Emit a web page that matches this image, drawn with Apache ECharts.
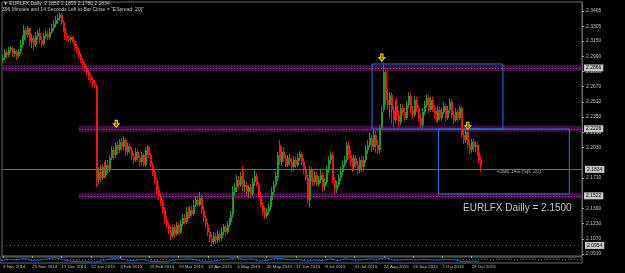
<!DOCTYPE html>
<html><head><meta charset="utf-8">
<script src="https://cdn.jsdelivr.net/npm/echarts@6/dist/echarts.min.js"></script>
<style>html,body{margin:0;padding:0;background:#000;}#c{width:625px;height:273px;}</style>
</head><body><div id="c"></div>
<script>
// ---- data ----
const opens=[2.295,2.297,2.303,2.300,2.306,2.308,2.301,2.304,2.299,2.303,
2.311,2.316,2.327,2.321,2.329,2.314,2.318,2.311,2.320,2.323,
2.316,2.312,2.320,2.322,2.319,2.324,2.329,2.333,2.337,2.339,
2.342,2.335,2.329,2.321,2.318,2.316,2.319,2.315,2.310,2.306,
2.300,2.295,2.291,2.287,2.282,2.278,2.274,2.270,2.268,2.169,
2.177,2.171,2.182,2.174,2.185,2.180,2.192,2.200,2.195,2.206,
2.200,2.209,2.203,2.211,2.198,2.205,2.200,2.194,2.190,2.198,
2.192,2.188,2.195,2.185,2.200,2.203,2.195,2.185,2.177,2.169,
2.158,2.152,2.146,2.137,2.127,2.122,2.116,2.110,2.119,2.112,
2.121,2.114,2.123,2.129,2.125,2.135,2.131,2.137,2.133,2.143,
2.148,2.143,2.150,2.137,2.129,2.122,2.114,2.108,2.104,2.110,
2.106,2.112,2.108,2.114,2.119,2.114,2.122,2.125,2.132,2.156,
2.161,2.169,2.164,2.177,2.161,2.164,2.156,2.161,2.154,2.167,
2.173,2.164,2.153,2.143,2.135,2.131,2.135,2.140,2.148,2.156,
2.164,2.171,2.206,2.188,2.198,2.192,2.185,2.192,2.188,2.182,
2.190,2.185,2.192,2.196,2.188,2.180,2.171,2.148,2.180,2.171,
2.167,2.174,2.165,2.169,2.174,2.161,2.167,2.180,2.190,2.195,
2.169,2.159,2.164,2.171,2.177,2.185,2.190,2.206,2.195,2.188,
2.182,2.192,2.185,2.180,2.190,2.182,2.190,2.200,2.206,2.213,
2.203,2.216,2.206,2.200,2.224,2.242,2.282,2.253,2.248,2.258,
2.242,2.232,2.248,2.237,2.230,2.245,2.240,2.234,2.248,2.257,
2.242,2.237,2.253,2.245,2.234,2.227,2.240,2.248,2.255,2.242,
2.253,2.245,2.237,2.232,2.242,2.234,2.240,2.247,2.234,2.242,
2.251,2.237,2.232,2.240,2.234,2.245,2.216,2.211,2.219,2.206,
2.200,2.209,2.203,2.206,2.198,2.190];
const closes=[2.297,2.303,2.300,2.306,2.308,2.301,2.304,2.299,2.303,2.311,
2.316,2.327,2.321,2.329,2.314,2.318,2.311,2.320,2.323,2.316,
2.312,2.320,2.322,2.319,2.324,2.329,2.333,2.337,2.339,2.342,
2.335,2.329,2.321,2.318,2.316,2.319,2.315,2.310,2.306,2.300,
2.295,2.291,2.287,2.282,2.278,2.274,2.270,2.268,2.169,2.177,
2.171,2.182,2.174,2.185,2.180,2.192,2.200,2.195,2.206,2.200,
2.209,2.203,2.211,2.198,2.205,2.200,2.194,2.190,2.198,2.192,
2.188,2.195,2.185,2.200,2.203,2.195,2.185,2.177,2.169,2.158,
2.152,2.146,2.137,2.127,2.122,2.116,2.110,2.119,2.112,2.121,
2.114,2.123,2.129,2.125,2.135,2.131,2.137,2.133,2.143,2.148,
2.143,2.150,2.137,2.129,2.122,2.114,2.108,2.104,2.110,2.106,
2.112,2.108,2.114,2.119,2.114,2.122,2.125,2.132,2.156,2.161,
2.169,2.164,2.173,2.161,2.164,2.156,2.161,2.154,2.167,2.173,
2.164,2.153,2.143,2.135,2.131,2.135,2.140,2.148,2.156,2.164,
2.173,2.195,2.188,2.198,2.192,2.185,2.192,2.188,2.182,2.190,
2.185,2.192,2.196,2.188,2.180,2.171,2.148,2.180,2.171,2.167,
2.174,2.165,2.169,2.174,2.161,2.167,2.180,2.190,2.195,2.169,
2.159,2.164,2.171,2.177,2.185,2.190,2.206,2.195,2.188,2.182,
2.192,2.185,2.180,2.190,2.182,2.190,2.200,2.206,2.213,2.203,
2.216,2.206,2.200,2.224,2.240,2.282,2.253,2.248,2.258,2.242,
2.232,2.248,2.237,2.230,2.245,2.240,2.234,2.248,2.257,2.242,
2.237,2.253,2.245,2.234,2.227,2.240,2.248,2.255,2.242,2.253,
2.245,2.237,2.232,2.242,2.234,2.240,2.247,2.234,2.242,2.251,
2.237,2.232,2.240,2.234,2.245,2.216,2.211,2.219,2.206,2.200,
2.209,2.203,2.206,2.198,2.190,2.1834];
const highs=[2.300,2.307,2.306,2.309,2.310,2.310,2.307,2.306,2.307,2.316,
2.321,2.332,2.329,2.331,2.330,2.322,2.320,2.324,2.327,2.329,
2.320,2.323,2.327,2.325,2.329,2.333,2.337,2.341,2.343,2.344,
2.344,2.337,2.331,2.323,2.320,2.321,2.320,2.316,2.312,2.308,
2.302,2.297,2.293,2.289,2.285,2.280,2.276,2.274,2.270,2.182,
2.185,2.186,2.188,2.190,2.190,2.195,2.205,2.205,2.209,2.210,
2.212,2.213,2.215,2.213,2.208,2.208,2.204,2.197,2.202,2.200,
2.195,2.198,2.197,2.204,2.206,2.205,2.197,2.188,2.180,2.171,
2.162,2.155,2.148,2.140,2.131,2.125,2.120,2.122,2.123,2.125,
2.125,2.127,2.133,2.133,2.140,2.140,2.142,2.142,2.148,2.152,
2.152,2.156,2.153,2.141,2.132,2.125,2.118,2.112,2.114,2.113,
2.116,2.115,2.119,2.123,2.122,2.126,2.129,2.136,2.162,2.166,
2.174,2.173,2.177,2.184,2.169,2.167,2.164,2.165,2.171,2.180,
2.176,2.167,2.156,2.146,2.140,2.139,2.144,2.152,2.161,2.168,
2.177,2.198,2.211,2.203,2.203,2.196,2.195,2.197,2.192,2.194,
2.193,2.196,2.199,2.198,2.192,2.184,2.174,2.184,2.182,2.175,
2.178,2.177,2.173,2.180,2.177,2.171,2.184,2.194,2.199,2.198,
2.172,2.168,2.175,2.182,2.189,2.194,2.209,2.210,2.200,2.192,
2.195,2.195,2.189,2.193,2.194,2.194,2.206,2.211,2.218,2.216,
2.221,2.220,2.211,2.227,2.247,2.290,2.285,2.264,2.261,2.261,
2.247,2.253,2.255,2.242,2.249,2.249,2.245,2.252,2.261,2.260,
2.247,2.257,2.256,2.248,2.238,2.245,2.252,2.259,2.258,2.256,
2.256,2.248,2.241,2.247,2.246,2.245,2.251,2.249,2.247,2.255,
2.254,2.241,2.245,2.244,2.247,2.247,2.221,2.224,2.221,2.210,
2.212,2.212,2.210,2.209,2.203,2.194];
const lows=[2.292,2.295,2.297,2.298,2.302,2.298,2.298,2.295,2.297,2.301,
2.309,2.314,2.316,2.318,2.310,2.308,2.306,2.309,2.316,2.313,
2.309,2.310,2.317,2.316,2.317,2.322,2.325,2.330,2.333,2.336,
2.332,2.324,2.316,2.315,2.314,2.314,2.313,2.307,2.302,2.297,
2.292,2.288,2.282,2.278,2.274,2.271,2.267,2.266,2.161,2.164,
2.167,2.169,2.171,2.171,2.175,2.177,2.190,2.190,2.192,2.195,
2.197,2.199,2.200,2.194,2.195,2.196,2.190,2.186,2.188,2.189,
2.184,2.185,2.182,2.183,2.195,2.192,2.182,2.173,2.165,2.154,
2.148,2.142,2.133,2.123,2.118,2.112,2.106,2.108,2.108,2.110,
2.111,2.112,2.120,2.121,2.123,2.128,2.129,2.130,2.131,2.140,
2.140,2.141,2.133,2.125,2.118,2.110,2.104,2.099,2.101,2.102,
2.103,2.104,2.105,2.111,2.110,2.112,2.119,2.122,2.129,2.152,
2.156,2.159,2.161,2.157,2.156,2.152,2.150,2.150,2.152,2.163,
2.161,2.150,2.140,2.132,2.128,2.129,2.132,2.137,2.145,2.153,
2.161,2.168,2.185,2.184,2.188,2.182,2.183,2.184,2.177,2.178,
2.181,2.182,2.189,2.185,2.175,2.168,2.144,2.140,2.167,2.163,
2.164,2.162,2.161,2.166,2.156,2.157,2.164,2.176,2.186,2.166,
2.154,2.155,2.161,2.168,2.174,2.182,2.187,2.191,2.184,2.177,
2.178,2.181,2.175,2.176,2.177,2.178,2.187,2.196,2.203,2.198,
2.200,2.197,2.196,2.197,2.222,2.240,2.248,2.242,2.234,2.228,
2.225,2.229,2.233,2.225,2.227,2.236,2.231,2.232,2.245,2.238,
2.233,2.235,2.240,2.230,2.224,2.225,2.237,2.245,2.239,2.240,
2.240,2.233,2.229,2.230,2.231,2.231,2.238,2.231,2.232,2.239,
2.234,2.228,2.230,2.230,2.232,2.213,2.207,2.208,2.202,2.196,
2.197,2.198,2.198,2.194,2.186,2.177];
// small indicator sub-window: bar index and value (0..1)
const indBars=[0,4,8,12,16,20,24,28,32,36,40,44,48,52,56,60,64,68,72,76,80,84,88,92,96,100,104,108,112,116,120,124,128,132,136,140,144,148,152,156,160,164,168,172,176,180,184,188,192,196,200,204,208,212,216,220,224,228,232,236,240,244];
const indValues=[0.4,0.6,0.5,0.8,0.4,0.5,0.7,0.9,0.5,0.3,0.2,0.2,0.1,0.4,0.7,0.8,0.5,0.4,0.6,0.3,0.2,0.2,0.5,0.6,0.7,0.5,0.2,0.3,0.5,0.6,0.9,0.6,0.7,0.3,0.4,0.8,0.7,0.5,0.6,0.3,0.5,0.4,0.7,0.4,0.7,0.5,0.5,0.7,0.6,0.9,0.5,0.5,0.6,0.5,0.6,0.5,0.5,0.6,0.5,0.2,0.3,0.3];
const dateLabels=["3 Nov 2014","25 Nov 2014","17 Dec 2014","12 Jan 2015","3 Feb 2015","25 Feb 2015","19 Mar 2015","10 Apr 2015","4 May 2015","26 May 2015","17 Jun 2015","9 Jul 2015","31 Jul 2015","24 Aug 2015","15 Sep 2015","7 Oct 2015","29 Oct 2015"];
const priceTicks=[2.3465,2.3305,2.3150,2.2990,2.2830,2.2670,2.2510,2.2350,2.2190,2.2030,2.1710,2.1390,2.1230,2.1070,2.0910];
const zoneTop=[2.2898,2.2258,2.1553];
const zoneBottom=[2.2835,2.2195,2.1490];
const zoneStart=[0,39,39];
const zoneLabel=["2.2866","2.2226","2.1522"];
const boxStart=[189,223], boxEnd=[256,290], boxTop=[2.2908,2.2224], boxBottom=[2.2224,2.1541];
const arrowBar=[58,194,238], arrowPrice=[2.2280,2.2975,2.2258];
const bidPrice=2.1846, askPrice=2.1826, lastLabel="2.1834";
const floorLine=2.0978, floorLabel="2.0954";
const labelStep=15, totalSlots=297;

// ---- build ----
const cats=[];for(let i=0;i<totalSlots;i++){cats.push(i%labelStep===0&&dateLabels[i/labelStep]?dateLabels[i/labelStep]:'b'+i);}
const candleData=opens.map((o,i)=>[i,o,closes[i],lows[i],highs[i]]);
const last=cats[totalSlots-1];
const FONT='Liberation Sans';
const UP='#23962a', DOWN='#ee1515';
const tagLabel=(t)=>({show:true,position:'end',formatter:t,backgroundColor:'#c8c8c8',color:'#000',fontSize:5,fontFamily:FONT,padding:[1,2],distance:3});
const series=[];
series.push({type:'line',data:[],z:1,silent:true,
  markArea:{silent:true,itemStyle:{color:'#420b42'},data:zoneTop.map((t,i)=>[{xAxis:cats[zoneStart[i]],yAxis:t},{xAxis:last,yAxis:zoneBottom[i]}])},
  markLine:{silent:true,symbol:'none',animation:false,lineStyle:{color:'#b040b0',type:[1,2],width:1},
    data:zoneTop.map((t,i)=>[{xAxis:cats[zoneStart[i]],yAxis:(t+zoneBottom[i])/2,label:tagLabel(zoneLabel[i])},{xAxis:last,yAxis:(t+zoneBottom[i])/2}])}
});
series.push({type:'line',data:[],z:2,silent:true,
  markLine:{silent:true,symbol:'none',animation:false,
   data:[
    {yAxis:bidPrice,lineStyle:{color:'#5f7060',type:'solid',width:1},label:tagLabel(lastLabel)},
    {yAxis:askPrice,lineStyle:{color:'#5f7060',type:'solid',width:1},label:{show:false}},
    {yAxis:floorLine,lineStyle:{color:'#707070',type:[1,3],width:1},label:tagLabel(floorLabel)}
   ]}
});
series.push({type:'custom',data:candleData,z:3,silent:true,clip:true,
  encode:{x:0,y:[1,2,3,4]},
  renderItem:function(params,api){
    const i=api.value(0),o=api.value(1),c=api.value(2),l=api.value(3),h=api.value(4);
    const po=api.coord([i,o]),pc=api.coord([i,c]),pl=api.coord([i,l]),ph=api.coord([i,h]);
    const cx=Math.round(po[0]);
    const col=c>=o?UP:DOWN;
    const top=Math.round(Math.min(po[1],pc[1])),bot=Math.round(Math.max(po[1],pc[1]));
    return {type:'group',children:[
      {type:'rect',shape:{x:cx-1,y:Math.round(ph[1]),width:1,height:Math.max(1,Math.round(pl[1])-Math.round(ph[1]))},style:{fill:col}},
      {type:'rect',shape:{x:cx-1,y:top,width:2,height:Math.max(1,bot-top)},style:{fill:col}}
    ]};
  }
});
series.push({type:'line',data:[],z:4,silent:true,
  markArea:{silent:true,itemStyle:{color:'rgba(0,0,0,0)',borderColor:'#2a74e0',borderWidth:1},
    data:boxStart.map((s,i)=>[{xAxis:cats[s],yAxis:boxTop[i]},{xAxis:cats[boxEnd[i]],yAxis:boxBottom[i]}])},
  markPoint:{silent:true,symbol:'path://M3,0 L7,0 L7,5 L10,5 L5,10 L0,5 L3,5 Z',symbolSize:[6,7],
    itemStyle:{color:'#6b5a00',borderColor:'#e8d000',borderWidth:1},label:{show:false},
    data:arrowBar.map((b,i)=>({coord:[cats[b],arrowPrice[i]]}))}
});
series.push({type:'line',xAxisIndex:1,yAxisIndex:1,data:indBars.map((b,i)=>[b,indValues[i]]),
  showSymbol:false,silent:true,smooth:false,lineStyle:{color:'#1e64d0',width:1},z:3});

const chart=echarts.init(document.getElementById('c'),null,{renderer:'canvas'});
const lblInt=(i)=>i%labelStep===0&&i/labelStep<dateLabels.length;
chart.setOption({
  animation:false,backgroundColor:'#000',
  grid:[{left:0,right:43,top:2,bottom:17,show:true,borderColor:'#6a6a6a',borderWidth:1,backgroundColor:'transparent'},
        {left:0,right:43,top:257,height:6,show:true,borderColor:'#6a6a6a',borderWidth:1,backgroundColor:'transparent'}],
  xAxis:[{type:'category',data:cats,boundaryGap:true,gridIndex:0,
    axisLine:{show:false},
    axisTick:{show:true,alignWithLabel:true,length:2,interval:lblInt,lineStyle:{color:'#a0a0a0'}},
    axisLabel:{interval:lblInt,align:'left',margin:9,fontSize:4.4,fontFamily:FONT,color:'#c0c0c0'},
    splitLine:{show:false}},
    {type:'category',data:cats,boundaryGap:true,gridIndex:1,show:false}],
  yAxis:[{type:'value',position:'right',min:2.0889,max:2.3560,scale:true,gridIndex:0,
    axisLine:{show:true,lineStyle:{color:'#6a6a6a'}},
    axisTick:{show:true,length:2,customValues:priceTicks,lineStyle:{color:'#a0a0a0'}},
    axisLabel:{customValues:priceTicks,formatter:(v)=>v.toFixed(4),fontSize:5,fontFamily:FONT,color:'#c0c0c0',margin:4},
    splitLine:{show:false}},
    {type:'value',gridIndex:1,min:0,max:1,show:false}],
  series:series,
  graphic:[
    {type:'text',left:3,top:1,style:{text:'▼ EURLFX,Daily  2.1850 2.1855 2.1780 2.1834',fill:'#c8c8c8',font:'5px "Liberation Sans"'}},
    {type:'text',left:2,top:7,style:{text:'396 Minutes and 14 Seconds Left to Bar Close = "ESpread: 20)"',fill:'#c8c8c8',font:'5px "Liberation Sans"'}},
    {type:'text',left:497,top:168,style:{text:'«396:14» (Sp. 20)',fill:'#b0b0b0',font:'5.5px "Liberation Sans"'}},
    {type:'text',left:463,top:203,style:{text:'EURLFX Dailly = 2.1500',fill:'#c8c8c8',font:'10px "Liberation Sans"'}},
    {type:'line',shape:{x1:1,y1:259.5,x2:582,y2:259.5},style:{stroke:'#606060',lineDash:[1,2],lineWidth:1}}
  ]
});
</script></body></html>
